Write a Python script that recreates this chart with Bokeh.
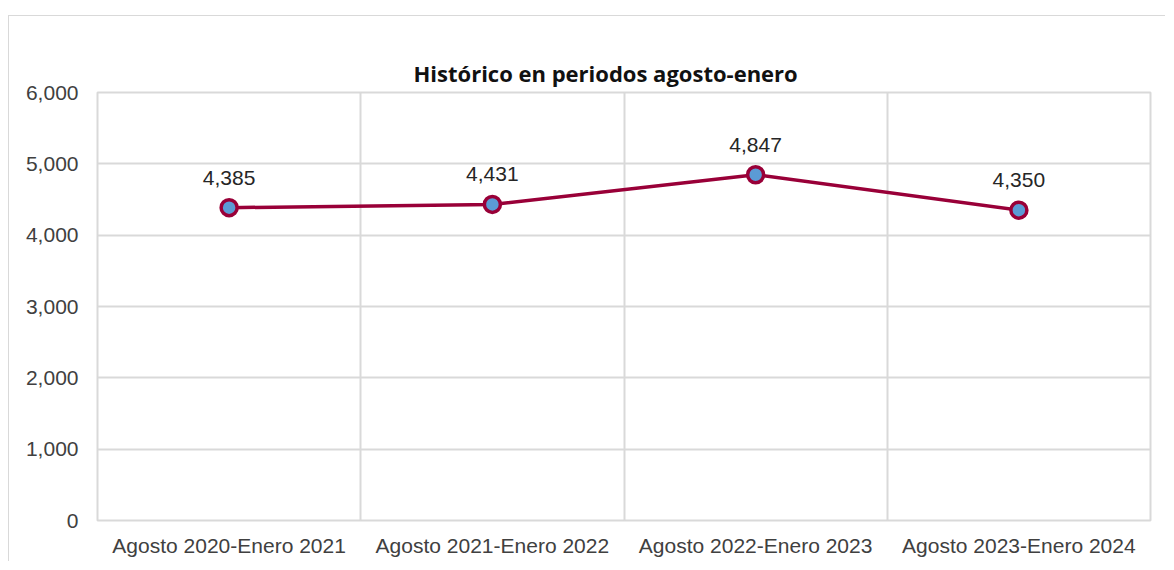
from bokeh.plotting import figure
from bokeh.models import FixedTicker, NumeralTickFormatter, ColumnDataSource, Range1d, Title
from bokeh.core.properties import value
from bokeh.embed import file_html
from bokeh.resources import INLINE

categories = ["Agosto 2020-Enero 2021", "Agosto 2021-Enero 2022",
              "Agosto 2022-Enero 2023", "Agosto 2023-Enero 2024"]
values = [4385, 4431, 4847, 4350]
y_ticks = [0, 1000, 2000, 3000, 4000, 5000, 6000]
title_text = "Histórico en periodos agosto-enero"

xs = [i + 0.5 for i in range(len(categories))]
labels = [f"{v:,}" for v in values]
src = ColumnDataSource(dict(x=xs, y=values, label=labels))

p = figure(width=1157, height=546, output_backend="svg", toolbar_location=None,
           x_range=Range1d(0, len(categories)), y_range=Range1d(0, 6000),
           min_border_left=88, min_border_right=16, min_border_top=76, min_border_bottom=42,
           styles={"margin-top": "15px", "margin-left": "8px",
                   "border-left": "1px solid #d9d9d9",
                   "border-top": "1px solid #d9d9d9"})

p.title.text = title_text
p.title.align = "left"
p.title.offset = 316
p.title.text_font = "Open Sans"
p.title.text_font_size = "22px"
p.title.text_font_style = "bold"
p.title.text_color = "#111111"
p.title.standoff = 10

# transparent spacer between the title and the plot area
spacer = Title(text=".", text_font_size="10px", text_color="white", text_alpha=0,
               standoff=12)
p.add_layout(spacer, "above")

p.outline_line_color = "#d9d9d9"
p.outline_line_width = 2
p.background_fill_color = "white"
p.border_fill_color = "white"

# grids
p.xgrid.ticker = FixedTicker(ticks=list(range(len(categories) + 1)))
p.ygrid.ticker = FixedTicker(ticks=y_ticks)
for g in (p.xgrid[0], p.ygrid[0]):
    g.grid_line_color = "#d9d9d9"
    g.grid_line_width = 2

# axes
p.xaxis.ticker = FixedTicker(ticks=xs)
p.xaxis.major_label_overrides = {x: c for x, c in zip(xs, categories)}
p.yaxis.ticker = FixedTicker(ticks=y_ticks)
p.yaxis.formatter = NumeralTickFormatter(format="0,0")
for ax in (p.xaxis[0], p.yaxis[0]):
    ax.axis_line_color = None
    ax.major_tick_line_color = None
    ax.minor_tick_line_color = None
    ax.major_label_text_font = "Liberation Sans"
    ax.major_label_text_font_size = "21px"
    ax.major_label_text_color = "#404040"
p.xaxis.major_label_standoff = 7
p.yaxis.major_label_standoff = 13

line_color = "#990038"
p.line("x", "y", source=src, line_color=line_color, line_width=3.5)
p.scatter("x", "y", source=src, size=16, fill_color="#5b9bd5",
          line_color=line_color, line_width=3.5)
p.text("x", "y", text="label", source=src, text_align="center", text_baseline="middle",
       y_offset=-30, text_font=value("Liberation Sans"), text_font_size="21px",
       text_color="#262626")

open("out.html", "w").write(file_html(p, INLINE))
